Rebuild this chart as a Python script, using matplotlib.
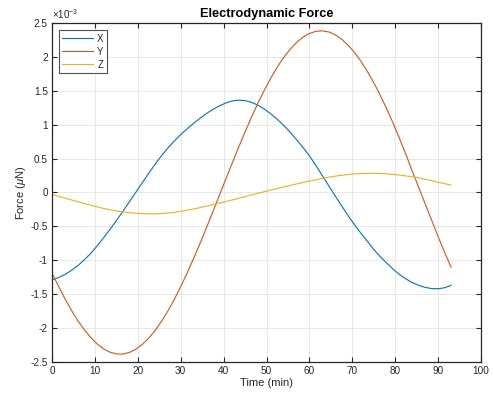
import matplotlib
matplotlib.use("Agg")
import matplotlib.pyplot as plt
from matplotlib.ticker import FuncFormatter

# Time samples (min), every 1.5 min
time_min = [0, 1.5, 3, 4.5, 6, 7.5, 9, 10.5, 12, 13.5, 15, 16.5, 18, 19.5, 21,
            22.5, 24, 25.5, 27, 28.5, 30, 31.5, 33, 34.5, 36, 37.5, 39, 40.5,
            42, 43.5, 45, 46.5, 48, 49.5, 51, 52.5, 54, 55.5, 57, 58.5, 60,
            61.5, 63, 64.5, 66, 67.5, 69, 70.5, 72, 73.5, 75, 76.5, 78, 79.5,
            81, 82.5, 84, 85.5, 87, 88.5, 90, 91.5, 93]

# Force components, in units of 1e-3 uN
force_x = [-1.29, -1.255, -1.21, -1.15, -1.08, -0.995, -0.90, -0.79, -0.67,
           -0.545, -0.415, -0.28, -0.14, 0.0, 0.14, 0.28, 0.415, 0.54, 0.655,
           0.76, 0.855, 0.94, 1.02, 1.095, 1.165, 1.225, 1.277, 1.32, 1.35,
           1.362, 1.355, 1.33, 1.288, 1.23, 1.16, 1.08, 0.99, 0.89, 0.78,
           0.665, 0.54, 0.40, 0.25, 0.10, -0.05, -0.195, -0.34, -0.475, -0.60,
           -0.72, -0.84, -0.945, -1.04, -1.13, -1.21, -1.275, -1.33, -1.37,
           -1.40, -1.417, -1.42, -1.405, -1.37]
force_y = [-1.19, -1.38, -1.565, -1.735, -1.89, -2.021, -2.138, -2.233, -2.306,
           -2.355, -2.381, -2.383, -2.360, -2.314, -2.244, -2.152, -2.038,
           -1.903, -1.749, -1.577, -1.389, -1.187, -0.974, -0.751, -0.520,
           -0.283, -0.044, 0.196, 0.433, 0.667, 0.893, 1.111, 1.318, 1.510,
           1.688, 1.849, 1.991, 2.112, 2.213, 2.291, 2.346, 2.377, 2.385,
           2.368, 2.327, 2.263, 2.175, 2.066, 1.936, 1.786, 1.619, 1.435,
           1.236, 1.025, 0.795, 0.56, 0.31, 0.07, -0.17, -0.41, -0.65, -0.88,
           -1.10]
force_z = [-0.03, -0.056, -0.082, -0.109, -0.135, -0.161, -0.187, -0.212,
           -0.235, -0.255, -0.272, -0.286, -0.298, -0.306, -0.312, -0.315,
           -0.315, -0.31, -0.303, -0.292, -0.278, -0.261, -0.243, -0.223,
           -0.202, -0.18, -0.157, -0.134, -0.11, -0.086, -0.061, -0.036,
           -0.012, 0.012, 0.036, 0.059, 0.082, 0.104, 0.126, 0.147, 0.167,
           0.188, 0.208, 0.226, 0.241, 0.254, 0.265, 0.274, 0.28, 0.283,
           0.283, 0.28, 0.275, 0.267, 0.257, 0.245, 0.231, 0.215, 0.196,
           0.175, 0.152, 0.13, 0.11]

series_names = ["X", "Y", "Z"]
series_colors = ["#0072BD", "#D95319", "#EDB120"]

x_ticks = list(range(0, 101, 10))
y_ticks = [-2.5, -2, -1.5, -1, -0.5, 0, 0.5, 1, 1.5, 2, 2.5]

plt.rcParams["font.family"] = ["Liberation Sans", "DejaVu Sans"]
plt.rcParams["axes.unicode_minus"] = False
plt.rcParams["mathtext.fontset"] = "custom"
plt.rcParams["mathtext.rm"] = "Liberation Sans"
plt.rcParams["mathtext.it"] = "Liberation Sans:italic"

txt = "#262626"

fig = plt.figure(figsize=(4.93, 3.96), dpi=100)
ax = fig.add_axes([0.1055, 0.0859, 0.8702, 0.856])

for vals, name, col in zip([force_x, force_y, force_z], series_names, series_colors):
    ax.plot(time_min, vals, color=col, lw=0.8, label=name)

ax.set_xlim(0, 100)
ax.set_ylim(-2.5, 2.5)
ax.set_xticks(x_ticks)
ax.set_yticks(y_ticks)
ax.yaxis.set_major_formatter(FuncFormatter(lambda v, p: "%g" % v))
ax.grid(True, color="#e3e3e3", lw=0.6)
ax.set_axisbelow(True)

ax.tick_params(direction="in", length=3.5, width=0.8, top=True, right=True,
               labelsize=7.2, colors=txt, pad=3)
for s in ax.spines.values():
    s.set_linewidth(0.9)
    s.set_color("#262626")

ax.set_title("Electrodynamic Force", fontsize=9.2, fontweight="bold", color="black", pad=4)
ax.set_xlabel("Time (min)", fontsize=8, color=txt, labelpad=1)
ax.set_ylabel(r"Force ($\mu$N)", fontsize=8, color=txt, labelpad=2)

ax.text(0.0, 1.006, r"$\times$10$^{-3}$", transform=ax.transAxes, fontsize=7,
        color=txt, ha="left", va="bottom")

leg = ax.legend(loc="upper left", bbox_to_anchor=(0.016, 0.978), fontsize=7,
                frameon=True, fancybox=False, edgecolor="#262626",
                handlelength=3.2, handletextpad=0.4, borderpad=0.35,
                labelspacing=0.3, borderaxespad=0)
leg.get_frame().set_linewidth(0.8)
for t in leg.get_texts():
    t.set_color(txt)

fig.savefig("out.png", dpi=100)
